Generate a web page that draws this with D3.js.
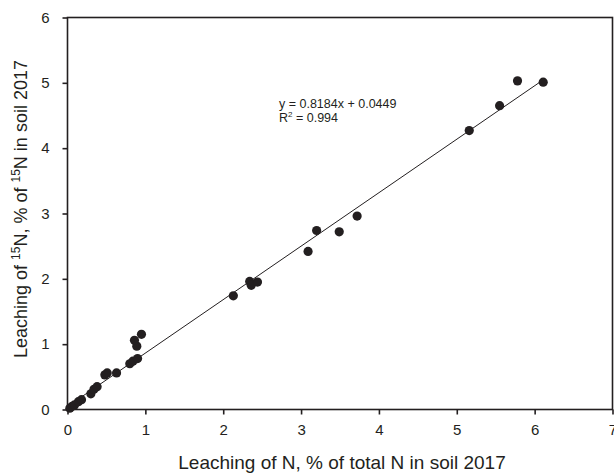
<!DOCTYPE html>
<html>
<head>
    <script src="https://cdn.jsdelivr.net/npm/d3@7"></script>
    <style>
        body { margin: 0; background: #fff; }
        svg { font-family: "Liberation Sans", Arial, sans-serif; }
    </style>
</head>
<body>
    <svg width="614" height="473"></svg>
    <script>
        // leaching of N (% of total N) vs leaching of 15N (% of 15N), soil 2017
        const xVals = [0.03, 0.06, 0.09, 0.14, 0.18, 0.30, 0.34, 0.38, 0.48, 0.51, 0.63,
                       0.80, 0.84, 0.90, 0.89, 0.86, 0.95,
                       2.13, 2.34, 2.36, 2.44,
                       3.09, 3.20, 3.49, 3.72,
                       5.16, 5.55, 5.78, 6.11];
        const yVals = [0.02, 0.05, 0.07, 0.12, 0.15, 0.24, 0.31, 0.35, 0.53, 0.56, 0.56,
                       0.70, 0.74, 0.78, 0.97, 1.06, 1.15,
                       1.74, 1.96, 1.90, 1.95,
                       2.42, 2.74, 2.72, 2.96,
                       4.27, 4.65, 5.03, 5.01];
        const xTicks = [0, 1, 2, 3, 4, 5, 6, 7];
        const yTicks = [0, 1, 2, 3, 4, 5, 6];
        const slope = 0.8184, intercept = 0.0449;

        const points = xVals.map((x, i) => ({x: x, y: yVals[i]}));

        const svg = d3.select("svg");
        const mLeft = 67.5, mRight = 612.5, mTop = 17.5, mBottom = 409.5;
        const ink = "#231f20";

        const x = d3.scaleLinear().domain([0, 7]).range([mLeft, mRight]);
        const y = d3.scaleLinear().domain([0, 6]).range([mBottom, mTop]);

        // frame
        svg.append("rect")
            .attr("x", mLeft).attr("y", mTop)
            .attr("width", mRight - mLeft).attr("height", mBottom - mTop)
            .attr("fill", "none").attr("stroke", ink).attr("stroke-width", 1.6);

        const xAxis = svg.append("g")
            .attr("transform", `translate(0,${mBottom})`)
            .call(d3.axisBottom(x).tickValues(xTicks).tickSize(5).tickPadding(10).tickFormat(d3.format("d")));
        const yAxis = svg.append("g")
            .attr("transform", `translate(${mLeft},0)`)
            .call(d3.axisLeft(y).tickValues(yTicks).tickSize(5).tickPadding(13).tickFormat(d3.format("d")));

        [xAxis, yAxis].forEach(g => {
            g.select(".domain").remove();
            g.selectAll("line").attr("stroke", ink).attr("stroke-width", 1.6);
            g.selectAll("text").attr("fill", ink)
                .style("font-family", "Liberation Sans, Arial, sans-serif")
                .style("font-size", "15px");
        });

        // regression line
        const lx = d3.extent(xVals);
        svg.append("line")
            .attr("x1", x(lx[0])).attr("y1", y(slope * lx[0] + intercept))
            .attr("x2", x(lx[1])).attr("y2", y(slope * lx[1] + intercept))
            .attr("stroke", ink).attr("stroke-width", 1);

        svg.append("g")
            .selectAll("circle")
            .data(points)
            .enter()
            .append("circle")
                .attr("cx", d => x(d.x))
                .attr("cy", d => y(d.y))
                .attr("r", 4.6)
                .attr("fill", ink);

        // equation
        svg.append("text")
            .attr("x", 279).attr("y", 108)
            .attr("font-size", 12.5).attr("fill", ink)
            .text("y = 0.8184x + 0.0449");
        const r2 = svg.append("text")
            .attr("x", 279).attr("y", 122)
            .attr("font-size", 12.5).attr("fill", ink);
        r2.append("tspan").text("R");
        r2.append("tspan").attr("dy", -5).attr("font-size", 8).text("2");
        r2.append("tspan").attr("dy", 5).text(" = 0.994");

        // axis titles
        svg.append("text")
            .attr("x", 342).attr("y", 469)
            .attr("text-anchor", "middle")
            .attr("font-size", 19).attr("fill", ink)
            .text("Leaching of N, % of total N in soil 2017");

        const yt = svg.append("text")
            .attr("transform", `translate(27,209) rotate(-90)`)
            .attr("text-anchor", "middle")
            .attr("font-size", 18).attr("fill", ink);
        yt.append("tspan").text("Leaching of ");
        yt.append("tspan").attr("dy", -7).attr("font-size", 12).text("15");
        yt.append("tspan").attr("dy", 7).text("N, % of ");
        yt.append("tspan").attr("dy", -7).attr("font-size", 12).text("15");
        yt.append("tspan").attr("dy", 7).text("N in soil 2017");
    </script>
</body>
</html>
